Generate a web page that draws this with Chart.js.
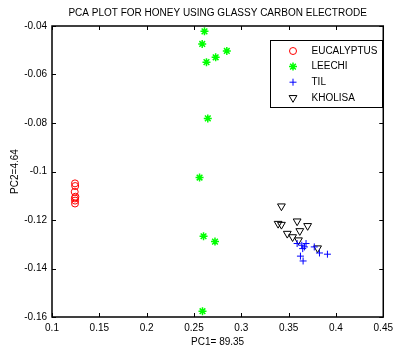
<!DOCTYPE html>
<html lang="en">
<head>
    <meta charset="UTF-8">
    <title>PCA plot for honey</title>
    <script src="https://cdn.jsdelivr.net/npm/chart.js"></script>
    <style>
        body { margin: 0; background: #fff; }
        #wrap { width: 398px; height: 350px; }
    </style>
</head>
<body>
    <div id="wrap"><canvas id="pcaChart"></canvas></div>
    <script>
        // values
        const eucalyptusX = [0.1243, 0.1245, 0.1240, 0.1247, 0.1242, 0.1244, 0.1243];
        const eucalyptusY = [-0.1049, -0.1060, -0.1084, -0.1104, -0.1111, -0.1120, -0.1132];

        const leechiX = [0.2611, 0.2587, 0.2847, 0.2729, 0.2632, 0.2646, 0.2559, 0.2601, 0.2722, 0.2590];
        const leechiY = [-0.0422, -0.0474, -0.0503, -0.0529, -0.0549, -0.0781, -0.1025, -0.1267, -0.1289, -0.1576];

        const tilX = [0.3590, 0.3639, 0.3667, 0.3684, 0.3649, 0.3771, 0.3826, 0.3910, 0.3625, 0.3653];
        const tilY = [-0.1297, -0.1304, -0.1311, -0.1297, -0.1318, -0.1311, -0.1336, -0.1341, -0.1349, -0.1369];

        const kholisaX = [0.3424, 0.3389, 0.3424, 0.3590, 0.3701, 0.3618, 0.3486, 0.3542, 0.3604, 0.3806];
        const kholisaY = [-0.1143, -0.1215, -0.1219, -0.1205, -0.1224, -0.1245, -0.1256, -0.1270, -0.1283, -0.1316];

        const groupNames = ['EUCALYPTUS', 'LEECHI', 'TIL', 'KHOLISA'];
        const xTicks = [0.1, 0.15, 0.2, 0.25, 0.3, 0.35, 0.4, 0.45];
        const yTicks = [-0.16, -0.14, -0.12, -0.1, -0.08, -0.06, -0.04];

        function toPoints(xs, ys) {
            return xs.map((v, i) => ({x: v, y: ys[i]}));
        }

        const FONT = "'Liberation Sans', Arial, sans-serif";
        Chart.defaults.font.family = FONT;
        Chart.defaults.color = '#000';

        const markers = [
            {pointStyle: 'circle', radius: 3.5, rotation: 0, borderWidth: 1, color: '#ff0000'},
            {pointStyle: 'star', radius: 4, rotation: 0, borderWidth: 1.5, color: '#00ff00'},
            {pointStyle: 'cross', radius: 3.5, rotation: 0, borderWidth: 1, color: '#0000ff'},
            {pointStyle: 'triangle', radius: 4.5, rotation: 180, borderWidth: 1, color: '#000000'}
        ];

        const allData = [
            toPoints(eucalyptusX, eucalyptusY),
            toPoints(leechiX, leechiY),
            toPoints(tilX, tilY),
            toPoints(kholisaX, kholisaY)
        ];

        // matlab-like box, inward ticks and the boxed legend
        const boxAxes = {
            id: 'boxAxes',
            afterDraw(chart) {
                const {ctx, chartArea: a, scales} = chart;
                ctx.save();
                ctx.strokeStyle = '#000';
                ctx.lineWidth = 1;
                ctx.beginPath();
                xTicks.forEach(t => {
                    const px = Math.round(scales.x.getPixelForValue(t)) + 0.5;
                    ctx.moveTo(px, a.bottom); ctx.lineTo(px, a.bottom - 4);
                    ctx.moveTo(px, a.top); ctx.lineTo(px, a.top + 4);
                });
                yTicks.forEach(t => {
                    const py = Math.round(scales.y.getPixelForValue(t)) + 0.5;
                    ctx.moveTo(a.left, py); ctx.lineTo(a.left + 4, py);
                    ctx.moveTo(a.right, py); ctx.lineTo(a.right - 4, py);
                });
                ctx.stroke();
                ctx.lineWidth = 1.5;
                ctx.strokeRect(a.left, a.top, a.right - a.left, a.bottom - a.top);

                // legend
                const lx = 270.5, ly = 40.5, lw = 112, lh = 67;
                ctx.fillStyle = '#fff';
                ctx.fillRect(lx, ly, lw, lh);
                ctx.lineWidth = 1;
                ctx.strokeRect(lx, ly, lw, lh);
                ctx.font = '10px ' + FONT;
                ctx.textBaseline = 'middle';
                ctx.textAlign = 'left';
                groupNames.forEach((name, i) => {
                    const m = markers[i];
                    const yy = ly + 10.5 + i * 15.6;
                    ctx.strokeStyle = m.color;
                    ctx.fillStyle = 'rgba(0,0,0,0)';
                    ctx.lineWidth = m.borderWidth;
                    Chart.helpers.drawPoint(ctx, m, lx + 22.5, yy);
                    ctx.fillStyle = '#000';
                    ctx.fillText(name, lx + 41, yy);
                });
                ctx.restore();
            }
        };

        const ctx = document.getElementById('pcaChart').getContext('2d');
        const pcaChart = new Chart(ctx, {
            type: 'scatter',
            data: {
                datasets: groupNames.map((name, i) => ({
                    label: name,
                    data: allData[i],
                    pointStyle: markers[i].pointStyle,
                    pointRadius: markers[i].radius,
                    pointRotation: markers[i].rotation,
                    pointBorderWidth: markers[i].borderWidth,
                    borderColor: markers[i].color,
                    backgroundColor: 'rgba(0,0,0,0)'
                }))
            },
            options: {
                responsive: true,
                maintainAspectRatio: false,
                animation: false,
                layout: { padding: { left: 0, right: 10, top: 0, bottom: 0 } },
                plugins: {
                    legend: { display: false },
                    tooltip: { enabled: false },
                    title: {
                        display: true,
                        fullSize: false,
                        text: 'PCA PLOT FOR HONEY USING GLASSY CARBON ELECTRODE',
                        font: { size: 10, weight: 'normal' },
                        color: '#000',
                        padding: { top: 7, bottom: 7 }
                    }
                },
                scales: {
                    x: {
                        type: 'linear',
                        min: 0.1,
                        max: 0.45,
                        afterBuildTicks: s => { s.ticks = xTicks.map(v => ({value: v})); },
                        afterFit: s => { s.height = 33; },
                        grid: { display: false, drawTicks: false },
                        border: { display: false },
                        ticks: {
                            padding: 5,
                            font: { size: 10 },
                            maxRotation: 0,
                            callback: v => String(Number(v.toFixed(2)))
                        },
                        title: {
                            display: true,
                            text: 'PC1= 89.35',
                            font: { size: 10 },
                            padding: { top: 0, bottom: 2 }
                        }
                    },
                    y: {
                        type: 'linear',
                        min: -0.16,
                        max: -0.04,
                        afterBuildTicks: s => { s.ticks = yTicks.map(v => ({value: v})); },
                        afterFit: s => { s.width = 52; },
                        grid: { display: false, drawTicks: false },
                        border: { display: false },
                        ticks: {
                            padding: 5,
                            font: { size: 10 },
                            callback: v => String(Number(v.toFixed(2)))
                        },
                        title: {
                            display: true,
                            text: 'PC2=4.64',
                            font: { size: 10 },
                            padding: { top: 9, bottom: 0 }
                        }
                    }
                }
            },
            plugins: [boxAxes]
        });
    </script>
</body>
</html>
